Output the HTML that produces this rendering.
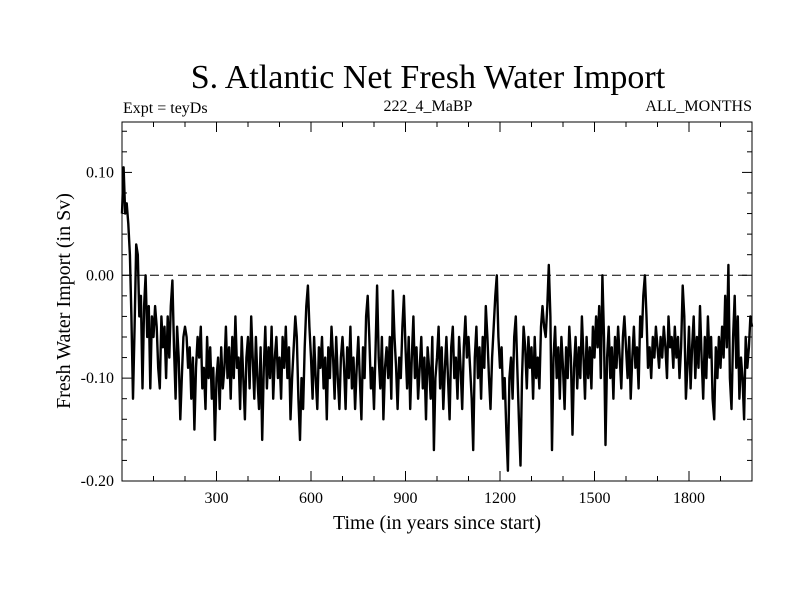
<!DOCTYPE html>
<html><head><meta charset="utf-8"><style>
body{margin:0;background:#fff;}
svg{display:block;font-family:"Liberation Serif",serif;}
</style></head><body>
<svg id="chart" width="800" height="600">
<rect width="800" height="600" fill="#fff"/>
<text x="428" y="88" font-size="34" text-anchor="middle">S. Atlantic Net Fresh Water Import</text>
<text x="123" y="113" font-size="16">Expt = teyDs</text>
<text x="428" y="111" font-size="16" text-anchor="middle">222_4_MaBP</text>
<text x="752" y="111" font-size="16" text-anchor="end">ALL_MONTHS</text>
<text x="437" y="529" font-size="20" text-anchor="middle">Time (in years since start)</text>
<text transform="translate(70,301) rotate(-90)" font-size="20" text-anchor="middle">Fresh Water Import (in Sv)</text>
<g id="ticks"></g>
<line id="zero" stroke="#000" stroke-dasharray="9,5" stroke-width="1"/>
<polyline id="series" fill="none" stroke="#000" stroke-width="2.4" stroke-linejoin="round"/>
<rect x="122" y="122" width="630" height="359" fill="none" stroke="#000" stroke-width="1"/>
</svg>
<script>
const yearStep = 5;
const values = [
.06,.105,.06,.07,.05,.02,-.04,-.12,-.05,.03,.02,-.04,-.02,-.11,-.03,0,-.06,-.03,-.11,-.04,
-.06,-.03,-.05,-.09,-.11,-.04,-.07,-.05,-.1,-.04,-.08,-.03,-.005,-.07,-.12,-.05,-.08,-.14,-.1,-.06,
-.05,-.06,-.09,-.07,-.12,-.08,-.15,-.09,-.06,-.08,-.05,-.11,-.09,-.13,-.06,-.1,-.07,-.12,-.09,-.16,
-.1,-.08,-.13,-.07,-.11,-.09,-.05,-.1,-.07,-.12,-.06,-.1,-.04,-.09,-.08,-.13,-.06,-.1,-.14,-.08,
-.06,-.11,-.04,-.08,-.12,-.06,-.1,-.13,-.07,-.16,-.09,-.05,-.11,-.07,-.1,-.05,-.12,-.08,-.06,-.1,
-.08,-.12,-.06,-.09,-.05,-.1,-.07,-.14,-.1,-.07,-.04,-.06,-.12,-.16,-.1,-.13,-.07,-.03,-.01,-.05,
-.08,-.12,-.06,-.1,-.13,-.07,-.09,-.06,-.11,-.08,-.14,-.07,-.1,-.05,-.08,-.12,-.06,-.1,-.13,-.08,
-.06,-.09,-.13,-.07,-.1,-.05,-.11,-.08,-.13,-.09,-.06,-.1,-.14,-.07,-.1,-.04,-.02,-.06,-.11,-.09,
-.13,-.07,-.01,-.08,-.11,-.06,-.14,-.09,-.07,-.1,-.06,-.12,-.015,-.06,-.09,-.13,-.08,-.1,-.05,-.02,
-.07,-.11,-.06,-.13,-.08,-.04,-.1,-.07,-.12,-.09,-.06,-.11,-.08,-.14,-.07,-.09,-.12,-.06,-.17,-.1,
-.08,-.05,-.11,-.07,-.13,-.09,-.06,-.1,-.14,-.07,-.05,-.1,-.08,-.12,-.06,-.09,-.13,-.07,-.04,-.08,
-.06,-.09,-.12,-.17,-.08,-.05,-.1,-.07,-.12,-.06,-.09,-.03,-.06,-.1,-.13,-.08,-.05,-.02,0,-.06,
-.09,-.07,-.12,-.1,-.15,-.19,-.1,-.08,-.12,-.06,-.04,-.09,-.14,-.185,-.1,-.05,-.07,-.11,-.06,-.09,
-.07,-.12,-.06,-.1,-.08,-.11,-.05,-.03,-.05,-.06,-.03,.01,-.04,-.17,-.08,-.05,-.1,-.07,-.12,-.06,
-.09,-.13,-.07,-.1,-.05,-.08,-.155,-.09,-.06,-.11,-.07,-.1,-.04,-.08,-.12,-.06,-.1,-.07,-.11,-.05,
-.08,-.04,-.07,-.03,-.1,0,-.06,-.165,-.08,-.05,-.1,-.07,-.12,-.06,-.09,-.05,-.08,-.11,-.06,-.04,
-.07,-.1,-.06,-.12,-.08,-.05,-.09,-.07,-.11,-.04,-.06,-.02,0,-.04,-.09,-.07,-.1,-.06,-.08,-.05,
-.07,-.09,-.06,-.08,-.05,-.07,-.1,-.04,-.07,-.06,-.09,-.05,-.08,-.06,-.1,-.07,-.01,-.04,-.12,-.09,
-.05,-.11,-.07,-.04,-.1,-.06,-.09,-.03,-.08,-.12,-.06,-.1,-.04,-.08,-.06,-.12,-.14,-.07,-.1,-.06,
-.09,-.05,-.08,-.02,-.07,.01,-.1,-.13,-.06,-.02,-.09,-.04,-.12,-.08,-.1,-.14,-.06,-.09,-.07,-.04,
-.05];
const xTickLabels = [300,600,900,1200,1500,1800];
const yTickLabels = [0.10,0.00,-0.10,-0.20];
const xMin=0,xMax=2000,yMin=-0.20,yMax=0.149;
const L=122,R=752,T=122,B=481;
const sx=v=>L+(v-xMin)/(xMax-xMin)*(R-L);
const sy=v=>B-(v-yMin)/(yMax-yMin)*(B-T);
const NS="http://www.w3.org/2000/svg";
const ticks=document.getElementById('ticks');
function line(x1,y1,x2,y2,name){const l=document.createElementNS(NS,'line');
l.setAttribute('x1',x1);l.setAttribute('y1',y1);l.setAttribute('x2',x2);l.setAttribute('y2',y2);
l.setAttribute('stroke','#000');


ticks.appendChild(l);}
function text(x,y,s,anchor,name){const t=document.createElementNS(NS,'text');
t.setAttribute('x',x);t.setAttribute('y',y);t.setAttribute('font-size','16');t.setAttribute('text-anchor',anchor);t.textContent=s;


ticks.appendChild(t);}
for(let yr=100;yr<2000;yr+=100){const x=sx(yr);const len=(yr%300===0)?10:5;
line(x,B,x,B-len,'x-tick');line(x,T,x,T+len,'x-tick-top');}
xTickLabels.forEach(v=>text(sx(v),503,String(v),'middle','x-tick-label'));
for(let v=-0.18;v<0.15;v+=0.02){const y=sy(v);if(y<T+1)continue;const major=Math.abs(Math.round(v*100)%10)===0;const len=major?10:5;
line(L,y,L+len,y,'y-tick');line(R,y,R-len,y,'y-tick-right');}
yTickLabels.forEach(v=>text(L-8,sy(v)+5,v.toFixed(2),'end','y-tick-label'));
const z=document.getElementById('zero');z.setAttribute('x1',L);z.setAttribute('x2',R);z.setAttribute('y1',sy(0));z.setAttribute('y2',sy(0));
document.getElementById('series').setAttribute('points',values.map((v,i)=>sx(i*yearStep).toFixed(1)+','+sy(v).toFixed(1)).join(' '));
</script>
</body></html>
